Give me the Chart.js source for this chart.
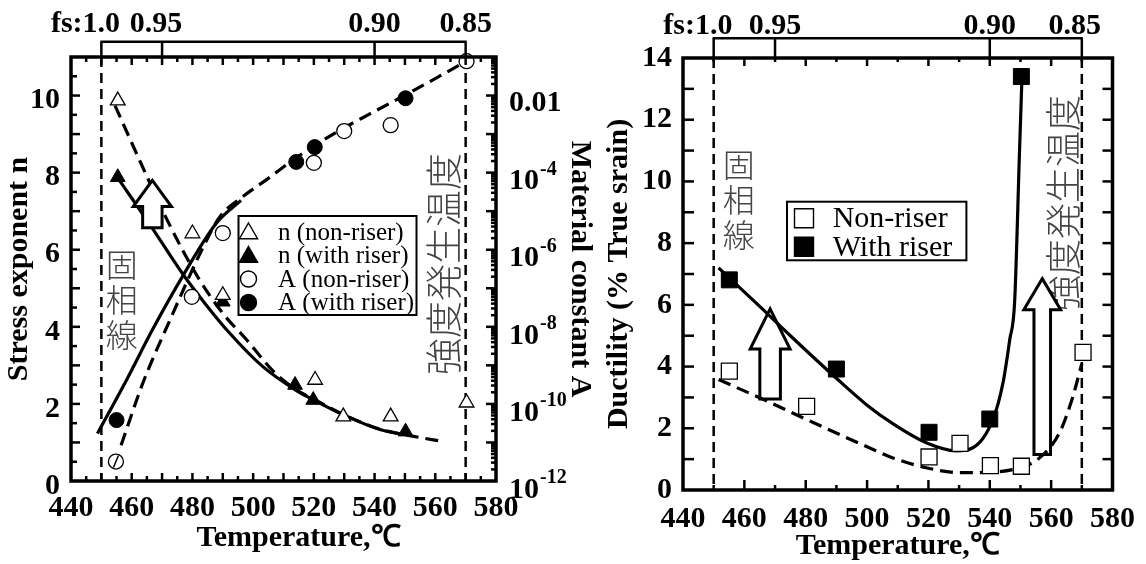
<!DOCTYPE html>
<html><head><meta charset="utf-8">
<script src="https://cdn.jsdelivr.net/npm/chart.js@4.4.1/dist/chart.umd.min.js"></script>
<style>
html,body{margin:0;padding:0;background:#fff;}
#wrap{position:relative;width:1146px;height:564px;overflow:hidden;background:#fff;}
#c1{position:absolute;left:0;top:0;}
#c2{position:absolute;left:598px;top:0;}
</style></head><body>
<div id="wrap"><canvas id="c1" width="598" height="564"></canvas><canvas id="c2" width="548" height="564"></canvas></div>
<script>
// ---------- data ----------
const tempTicks = [440,460,480,500,520,540,560,580];
const nTicks = [0,2,4,6,8,10];
const ductTicks = [0,2,4,6,8,10,12,14];
const aExpTicks = [-2,-4,-6,-8,-10,-12];
const fsTemps = [450,470,540,570];
const fsLabels = ['fs:1.0','0.95','0.90','0.85'];
const solidusTemp = 450;
const strengthTemp = 570;

// left chart: stress exponent n and material constant A
const nNonRiserT = [455.4,480,490,520.4,529.7,545.3,570.3];
const nNonRiser  = [9.87,6.42,4.82,2.62,1.67,1.67,2.03];
const nRiserT    = [455.4,490,513.8,519.8,550.2];
const nRiser     = [7.88,4.65,2.49,2.10,1.28];
const aNonRiserT = [454.8,479.8,490,520,530,545.3,570.3];
const aNonRiser  = [3.2e-12,6.0e-8,2.7e-6,1.8e-4,1.2e-3,1.7e-3,7.8e-2];
const aRiserT    = [455,514.2,520.3,550.2];
const aRiser     = [3.8e-11,1.9e-4,4.6e-4,8.5e-3];
// fitted curves (left)
const nRiserFitT    = [455.5,466,477,484,492,503,514,520,531,542,550];
const nRiserFit     = [7.85,6.65,5.35,4.62,3.86,2.98,2.36,2.10,1.67,1.33,1.20];
const nNonRiserFitT = [454.5,463,471.5,481.4,490,498,506.6,514,520,531,542,552,563];
const nNonRiserFit  = [9.74,8.25,6.80,5.34,4.35,3.65,2.85,2.38,2.12,1.68,1.34,1.17,1.02];
const aRiserFitT    = [448.7,458.3,467,477,488,496];
const aRiserFit     = [1.7e-11,4.2e-10,8.9e-9,2.2e-7,5.0e-6,1.9e-5];
const aNonRiserFitT = [456.5,463.8,472.6,483.6,489,496,505,513,526.4,538,550.8,570.3];
const aNonRiserFit  = [8.5e-12,3.7e-10,1.5e-8,1.2e-6,7.1e-6,2.2e-5,7.1e-5,2.1e-4,1.0e-3,3.2e-3,1.1e-2,7.8e-2];

// right chart: ductility
const dNonRiserT = [455.1,480.3,520.2,530.3,540.2,550.3,570.4];
const dNonRiser  = [3.85,2.71,1.07,1.51,0.79,0.77,4.46];
const dRiserT    = [455.1,490,520.2,540,550.3];
const dRiser     = [6.81,3.92,1.87,2.30,13.4];
const dRiserFitT    = [451.6,455,465,475,490,500,508.4,519.3,529,534.5,541,544.3,546.5,548.1,549.7,550.5];
const dRiserFit     = [7.2,6.88,5.95,5.0,3.62,2.75,2.15,1.53,1.27,1.37,2.28,3.47,4.87,6.1,11.0,13.4];
const dNonRiserFitT = [451.6,466.3,482.6,500,508.4,519.3,530,541,549.7,556.2,562.7,567,570];
const dNonRiserFit  = [3.58,2.93,2.18,1.40,1.04,0.72,0.56,0.58,0.72,1.04,1.85,3.0,4.1];

const legendLeft  = ['n (non-riser)','n (with riser)','A (non-riser)','A (with riser)'];
const legendRight = ['Non-riser','With riser'];
const textSolidus = '固相線';
const textStrength = '強度発生温度';

// ---------- helpers ----------
const FONT = "'Liberation Serif','Times New Roman',serif";
const JFONT = "'Noto Sans CJK JP','Noto Sans CJK SC',sans-serif";
const pts = (xs, ys) => xs.map((x, i) => ({x, y: ys[i]}));

function markerDS(xs, ys, style, filled, r, axis) {
  return {data: pts(xs, ys), showLine: false, pointStyle: style, pointRadius: r,
    pointBackgroundColor: filled ? '#000' : '#fff', pointBorderColor: '#000',
    pointBorderWidth: filled ? 1 : 1.3, yAxisID: axis, order: 0, clip: false};
}
function curveDS(xs, ys, dashed, axis) {
  return {data: pts(xs, ys), pointRadius: 0, borderColor: '#000', borderWidth: 3.2,
    borderDash: dashed ? [13, 7] : [], cubicInterpolationMode: 'monotone', fill: false,
    yAxisID: axis, order: 1};
}

function drawArrow(ctx, xs, ys, a) {
  const X = v => xs.getPixelForValue(v), Y = v => ys.getPixelForValue(v);
  const yt = Y(a.tip), yh = Y(a.base), yb = Y(a.bottom);
  ctx.save();
  ctx.beginPath();
  ctx.moveTo(X(a.x), yt);
  ctx.lineTo(X(a.x + a.head), yh);
  ctx.lineTo(X(a.x + a.shaft), yh);
  ctx.lineTo(X(a.x + a.shaft), yb);
  ctx.lineTo(X(a.x - a.shaft), yb);
  ctx.lineTo(X(a.x - a.shaft), yh);
  ctx.lineTo(X(a.x - a.head), yh);
  ctx.closePath();
  ctx.fillStyle = '#fff'; ctx.fill();
  ctx.lineWidth = 3; ctx.strokeStyle = '#000'; ctx.lineJoin = 'miter'; ctx.stroke();
  ctx.restore();
}

function drawMarker(ctx, style, filled, x, y, s) {
  ctx.save();
  ctx.beginPath();
  if (style === 'triangle') {
    ctx.moveTo(x, y - s); ctx.lineTo(x + s * 0.866, y + s * 0.5); ctx.lineTo(x - s * 0.866, y + s * 0.5); ctx.closePath();
  } else if (style === 'circle') {
    ctx.arc(x, y, s, 0, Math.PI * 2);
  } else {
    ctx.rect(x - s, y - s, 2 * s, 2 * s);
  }
  ctx.fillStyle = filled ? '#000' : '#fff'; ctx.fill();
  ctx.lineWidth = 1.4; ctx.strokeStyle = '#000'; ctx.stroke();
  ctx.restore();
}

function tick(ctx, x1, y1, x2, y2) { ctx.beginPath(); ctx.moveTo(x1, y1); ctx.lineTo(x2, y2); ctx.stroke(); }

// decoration config per canvas
const deco = {
  c1: {
    yKey: 'y',
    fsY: 41.7, fsLabelY: 24.5, fsOffsets: [0, -6, 0, 0],
    arrowsOver: [{x: 466.8, head: 6.3, shaft: 3.2, tip: 7.8, base: 7.12, bottom: 6.57}],
    arrowsUnder: [],
    jpUp: {x: 456.7, y: 4.69, size: 32, step: 35},
    jpRot: {x: 562.9, y: 5.63, size: 37},
  },
  c2: {
    yKey: 'y',
    fsY: 38.3, fsLabelY: 26, fsOffsets: [0, 0, 0, -7],
    arrowsOver: [],
    arrowsUnder: [{x: 468.4, head: 6.5, shaft: 3.35, tip: 5.87, base: 4.57, bottom: 2.95},
                  {x: 557.1, head: 6.0, shaft: 2.7, tip: 6.85, base: 5.84, bottom: 1.15}],
    jpUp: {x: 458.2, y: 9.40, size: 32, step: 35},
    jpRot: {x: 564.1, y: 9.30, size: 36},
  }
};

const decoPlugin = {
  id: 'deco',
  beforeDatasetsDraw(chart) {
    const d = deco[chart.canvas.id]; const ctx = chart.ctx; const ca = chart.chartArea;
    const xs = chart.scales.x, ys = chart.scales[d.yKey];
    ctx.save();
    // vertical dashed reference lines
    ctx.setLineDash([10, 6]); ctx.lineWidth = 2.5; ctx.strokeStyle = '#000';
    for (const t of [solidusTemp, strengthTemp]) {
      const X = xs.getPixelForValue(t);
      tick(ctx, X, ca.top, X, ca.bottom);
    }
    ctx.setLineDash([]);
    // japanese annotations
    ctx.fillStyle = '#444';
    ctx.textAlign = 'center'; ctx.textBaseline = 'middle';
    ctx.font = '300 ' + d.jpUp.size + 'px ' + JFONT;
    const ux = xs.getPixelForValue(d.jpUp.x), uy = ys.getPixelForValue(d.jpUp.y);
    [...textSolidus].forEach((ch, i) => ctx.fillText(ch, ux, uy + (i - 1) * d.jpUp.step));
    ctx.save();
    ctx.translate(xs.getPixelForValue(d.jpRot.x), ys.getPixelForValue(d.jpRot.y));
    ctx.rotate(-Math.PI / 2);
    ctx.font = '300 ' + d.jpRot.size + 'px ' + JFONT;
    ctx.fillText(textStrength, 0, 0);
    ctx.restore();
    for (const a of d.arrowsUnder) drawArrow(ctx, xs, ys, a);
    ctx.restore();
  },
  afterDatasetsDraw(chart) {
    const id = chart.canvas.id; const d = deco[id]; const ctx = chart.ctx; const ca = chart.chartArea;
    const xs = chart.scales.x, ys = chart.scales[d.yKey];
    ctx.save();
    for (const a of d.arrowsOver) drawArrow(ctx, xs, ys, a);
    // frame
    ctx.lineWidth = 3.5; ctx.strokeStyle = '#000';
    ctx.strokeRect(ca.left, ca.top, ca.right - ca.left, ca.bottom - ca.top);
    // inward ticks
    ctx.lineWidth = 2.5;
    if (id === 'c1') {
      for (let t = 445; t < 580; t += 5) {
        const X = xs.getPixelForValue(t); const L = t % 10 === 0 ? 8 : 5;
        tick(ctx, X, ca.bottom, X, ca.bottom - L); tick(ctx, X, ca.top, X, ca.top + L);
      }
      for (let v = 0.5; v < 11; v += 0.5) {
        const Y = ys.getPixelForValue(v); const L = v % 1 === 0 ? 9 : 6;
        tick(ctx, ca.left, Y, ca.left + L, Y);
      }
      const ya = chart.scales.yA;
      for (let e = -12; e <= -2; e++) {
        for (let k = 1; k <= 9; k++) {
          const v = k * Math.pow(10, e); if (v <= 1e-12 || v >= 1e-1) continue;
          const Y = ya.getPixelForValue(v); const L = k === 1 ? 10 : 5;
          tick(ctx, ca.right, Y, ca.right - L, Y);
        }
      }
      // right axis labels (log, superscripts)
      ctx.fillStyle = '#000'; ctx.textAlign = 'left'; ctx.textBaseline = 'middle';
      for (const e of aExpTicks) {
        const Y = ya.getPixelForValue(Math.pow(10, e)); const X = ca.right + 13;
        ctx.font = 'bold 30px ' + FONT;
        if (e === -2) { ctx.fillText('0.01', X, Y + 8); continue; }
        ctx.fillText('10', X, Y + 9);
        const w = ctx.measureText('10').width;
        ctx.font = 'bold 20px ' + FONT;
        ctx.fillText('-' + (-e), X + w + 1, Y - 3);
      }
      // slashed first open circle
      const cx = xs.getPixelForValue(aNonRiserT[0]), cy = ya.getPixelForValue(aNonRiser[0]);
      ctx.lineWidth = 1.5; tick(ctx, cx - 2.5, cy + 6, cx + 2.5, cy - 6);
    } else {
      for (let t = 450; t < 580; t += 10) {
        const X = xs.getPixelForValue(t); const L = t % 20 === 0 ? 10 : 5;
        tick(ctx, X, ca.bottom, X, ca.bottom - L); tick(ctx, X, ca.top, X, ca.top + (t % 20 === 0 ? 8 : 4));
      }
      for (let v = 1; v < 14; v += 1) {
        const Y = ys.getPixelForValue(v);
        tick(ctx, ca.left, Y, ca.left + 11, Y); tick(ctx, ca.right, Y, ca.right - 10, Y);
      }
    }
    // fs bracket on top
    ctx.lineWidth = 2.5; ctx.strokeStyle = '#000';
    const x0 = xs.getPixelForValue(fsTemps[0]), x1 = xs.getPixelForValue(fsTemps[fsTemps.length - 1]);
    tick(ctx, x0 - 1, d.fsY, x1 + 1, d.fsY);
    ctx.fillStyle = '#000'; ctx.textBaseline = 'middle'; ctx.font = 'bold 30px ' + FONT;
    fsTemps.forEach((t, i) => {
      const X = xs.getPixelForValue(t);
      tick(ctx, X, d.fsY, X, ca.top);
      if (i === 0) {
        ctx.textAlign = 'right';
        const w = ctx.measureText('1.0').width;
        ctx.fillText(fsLabels[i], X + w / 2, d.fsLabelY);
      } else {
        ctx.textAlign = 'center';
        ctx.fillText(fsLabels[i], X + d.fsOffsets[i], d.fsLabelY);
      }
    });
    // legends
    ctx.textAlign = 'left'; ctx.textBaseline = 'middle';
    if (id === 'c1') {
      ctx.lineWidth = 2; ctx.strokeRect(238.5, 216, 178, 99);
      const styles = [['triangle', false], ['triangle', true], ['circle', false], ['circle', true]];
      ctx.font = '25px ' + FONT;
      legendLeft.forEach((txt, i) => {
        const Y = 232 + i * 23.5;
        drawMarker(ctx, styles[i][0], styles[i][1], 248.5, Y + (styles[i][0] === 'triangle' ? 1.5 : 0), styles[i][0] === 'triangle' ? 10.5 : 8);
        ctx.fillStyle = '#000'; ctx.fillText(txt, 278, Y + 1);
      });
    } else {
      ctx.lineWidth = 2; ctx.strokeRect(189, 201.7, 179.4, 58.6);
      ctx.font = '30px ' + FONT;
      legendRight.forEach((txt, i) => {
        const Y = 218.3 + i * 28.4;
        drawMarker(ctx, 'rect', i === 1, 206, Y, 9.5);
        ctx.fillStyle = '#000'; ctx.fillText(txt, 234.7, Y + 1);
      });
    }
    ctx.restore();
  }
};

const tickFont = {family: FONT, size: 30, weight: 'bold'};
const titleFont = {family: FONT, size: 30, weight: 'bold'};
const setTicks = arr => s => { s.ticks = arr.map(v => ({value: v})); };

// ---------- left chart ----------
new Chart(document.getElementById('c1'), {
  type: 'line',
  data: {datasets: [
    markerDS(nNonRiserT, nNonRiser, 'triangle', false, 8.5, 'y'),
    markerDS(nRiserT, nRiser, 'triangle', true, 8.5, 'y'),
    markerDS(aNonRiserT, aNonRiser, 'circle', false, 7.5, 'yA'),
    markerDS(aRiserT, aRiser, 'circle', true, 7.5, 'yA'),
    curveDS(nRiserFitT, nRiserFit, false, 'y'),
    curveDS(nNonRiserFitT, nNonRiserFit, true, 'y'),
    curveDS(aRiserFitT, aRiserFit, false, 'yA'),
    curveDS(aNonRiserFitT, aNonRiserFit, true, 'yA'),
  ]},
  options: {
    responsive: false, animation: false, devicePixelRatio: 1, events: [],
    layout: {padding: {top: 57, left: 0, right: 0, bottom: 0}},
    plugins: {legend: {display: false}, tooltip: {enabled: false}},
    scales: {
      x: {type: 'linear', position: 'bottom', min: 440, max: 580,
        afterBuildTicks: setTicks(tempTicks), afterFit: s => { s.height = 83; },
        grid: {display: false, drawTicks: false}, border: {display: false},
        ticks: {font: tickFont, color: '#000', padding: 9, maxRotation: 0, autoSkip: false},
        title: {display: true, text: '    Temperature,℃', font: titleFont, color: '#000', padding: {top: 0, bottom: 8}}},
      y: {type: 'linear', position: 'left', min: 0, max: 11,
        afterBuildTicks: setTicks(nTicks), afterFit: s => { s.width = 71; },
        grid: {display: false, drawTicks: false}, border: {display: false},
        ticks: {font: tickFont, color: '#000', padding: 11, labelOffset: 5, autoSkip: false},
        title: {display: true, text: 'Stress exponent n', font: titleFont, color: '#000', padding: {top: 1, bottom: 0}}},
      yA: {type: 'logarithmic', position: 'right', min: 1e-12, max: 1e-1,
        afterFit: s => { s.width = 102; },
        grid: {display: false, drawTicks: false}, border: {display: false},
        ticks: {display: false},
        title: {display: true, text: 'Material constant A', font: titleFont, color: '#000', padding: {top: 0, bottom: 0}}}
    }
  },
  plugins: [decoPlugin]
});

// ---------- right chart ----------
new Chart(document.getElementById('c2'), {
  type: 'line',
  data: {datasets: [
    markerDS(dNonRiserT, dNonRiser, 'rect', false, 11.3, 'y'),
    markerDS(dRiserT, dRiser, 'rect', true, 11.3, 'y'),
    curveDS(dRiserFitT, dRiserFit, false, 'y'),
    curveDS(dNonRiserFitT, dNonRiserFit, true, 'y'),
  ]},
  options: {
    responsive: false, animation: false, devicePixelRatio: 1, events: [],
    layout: {padding: {top: 58, left: 0, right: 33, bottom: 0}},
    plugins: {legend: {display: false}, tooltip: {enabled: false}},
    scales: {
      x: {type: 'linear', position: 'bottom', min: 440, max: 580,
        afterBuildTicks: setTicks(tempTicks), afterFit: s => { s.height = 74; },
        grid: {display: false, drawTicks: false}, border: {display: false},
        ticks: {font: tickFont, color: '#000', padding: 11, maxRotation: 0, autoSkip: false},
        title: {display: true, text: 'Temperature,℃', font: titleFont, color: '#000', padding: {top: 0, bottom: 0}}},
      y: {type: 'linear', position: 'left', min: 0, max: 14,
        afterBuildTicks: setTicks(ductTicks), afterFit: s => { s.width = 85; },
        grid: {display: false, drawTicks: false}, border: {display: false},
        ticks: {font: tickFont, color: '#000', padding: 11, autoSkip: false},
        title: {display: true, text: 'Ductility (% True srain)', font: titleFont, color: '#000', padding: {top: 3, bottom: 0}}}
    }
  },
  plugins: [decoPlugin]
});
</script>
</body></html>
